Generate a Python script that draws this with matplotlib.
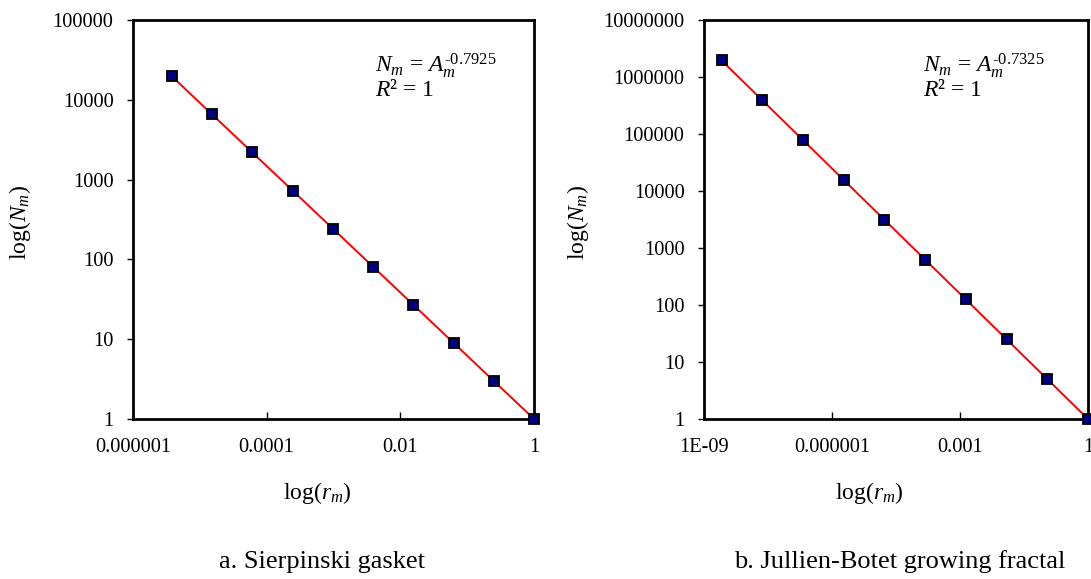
import matplotlib.pyplot as plt
import matplotlib.ticker as mticker

plt.rcParams['font.family'] = ['Liberation Serif', 'DejaVu Serif']
plt.rcParams['mathtext.fontset'] = 'custom'
plt.rcParams['mathtext.rm'] = 'Liberation Serif'
plt.rcParams['mathtext.it'] = 'Liberation Serif:italic'

# a. Sierpinski gasket
r_a = [1, 0.25, 0.0625, 0.015625, 0.00390625, 0.0009765625,
       0.000244140625, 6.103515625e-05, 1.52587890625e-05, 3.814697265625e-06]
n_a = [1, 3, 9, 27, 81, 243, 729, 2187, 6561, 19683]
xt_a = [1e-6, 1e-4, 1e-2, 1]
xl_a = ['0.000001', '0.0001', '0.01', '1']
yt_a = [1, 10, 100, 1000, 10000, 100000]

# b. Jullien-Botet growing fractal
r_b = [1, 1/9, 1/81, 1/729, 1/6561, 1/59049, 1/531441,
       1/4782969, 1/43046721, 1/387420489]
n_b = [1, 5, 25, 125, 625, 3125, 15625, 78125, 390625, 1953125]
xt_b = [1e-9, 1e-6, 1e-3, 1]
xl_b = ['1E-09', '0.000001', '0.001', '1']
yt_b = [1, 10, 100, 1000, 10000, 100000, 1000000, 10000000]

W, H = 1091, 579
fig = plt.figure(figsize=(W / 100, H / 100), dpi=100)
ax1 = fig.add_axes([133 / W, 1 - 419 / H, 401 / W, 399 / H])
ax2 = fig.add_axes([704 / W, 1 - 419 / H, 384 / W, 399 / H])

# axes, data, ticks, limits, exponent, caption, then pixel x of equation, xlabel, caption, ylabel
panels = [
    (ax1, r_a, n_a, xt_a, xl_a, yt_a, (1e-6, 1), (1, 1e5), '-0.7925',
     'a. Sierpinski gasket', 375, 317, 322, 20),
    (ax2, r_b, n_b, xt_b, xl_b, yt_b, (1e-9, 1), (1, 1e7), '-0.7325',
     'b. Jullien-Botet growing fractal', 923, 869, 900, 578),
]

for ax, r, n, xt, xl, yt, xlim, ylim, expo, cap, eqx, xlx, capx, ylx in panels:
    ax.plot(r, n, color='red', lw=1.4, zorder=2, clip_on=False)
    ax.plot(r, n, ls='none', marker='s', ms=7.5, mfc='#000080', mec='black',
            mew=1.3, zorder=3, clip_on=False)
    ax.set_xscale('log')
    ax.set_yscale('log')
    ax.set_xlim(*xlim)
    ax.set_ylim(*ylim)
    ax.set_xticks(xt)
    ax.set_xticklabels(xl)
    ax.set_yticks(yt)
    ax.yaxis.set_major_formatter(mticker.FuncFormatter(lambda v, p: '%d' % round(v)))
    ax.xaxis.set_minor_locator(mticker.NullLocator())
    ax.yaxis.set_minor_locator(mticker.NullLocator())
    ax.tick_params(axis='x', direction='in', length=5, width=1, labelsize=14.7, pad=14)
    ax.tick_params(axis='y', direction='out', length=4, width=1, labelsize=14.7, pad=10)
    for s in ax.spines.values():
        s.set_linewidth(2)

    # axis titles and annotations placed in pixel positions
    bb = ax.get_position()
    fig.text(xlx / W, 1 - 493 / H, r'log($r_m$)', fontsize=17, ha='center', va='center')
    fig.text(ylx / W, 1 - 222 / H, r'log($N_m$)', fontsize=17, rotation=90,
             ha='center', va='center')
    fig.text(eqx / W, 1 - 66 / H, r'$N_m$ = $A_m^{\text{' + expo + '}}$',
             fontsize=17, va='center')
    fig.text(eqx / W, 1 - 91 / H, r'$R$² = 1', fontsize=17, va='center')
    fig.text(capx / W, 1 - 562 / H, cap, ha='center', va='center', fontsize=19)

fig.savefig('out.png', dpi=100)
